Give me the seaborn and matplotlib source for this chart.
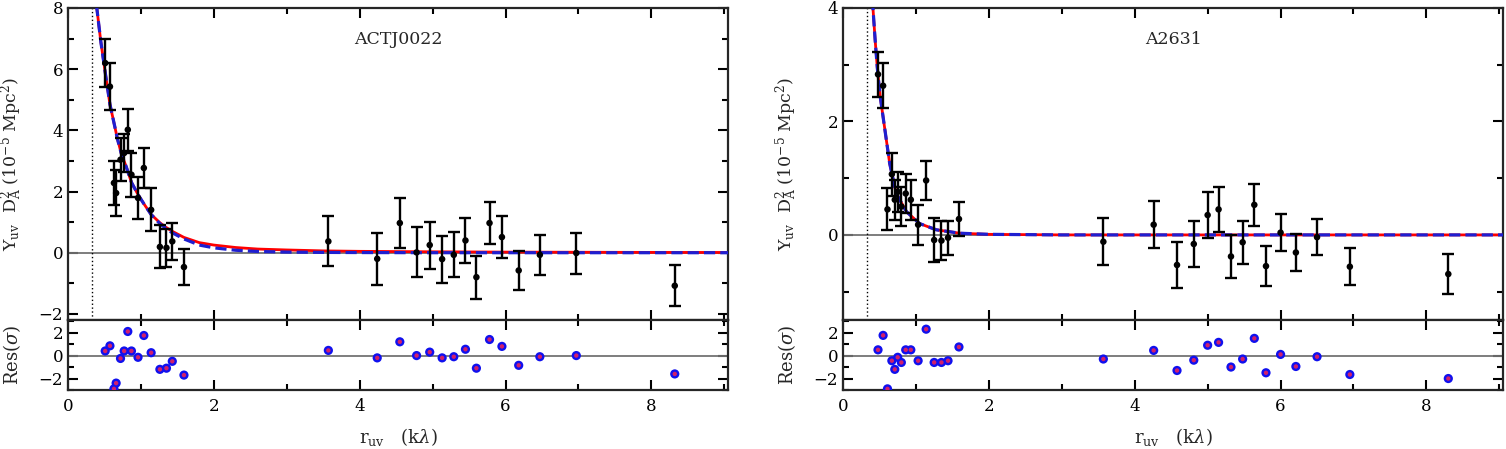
import numpy as np
import pandas as pd
import seaborn as sns
import matplotlib.pyplot as plt
from matplotlib.ticker import MultipleLocator

# %%
# ACTJ0022 visibilities
act_r = [0.51, 0.575, 0.63, 0.66, 0.72, 0.77, 0.82, 0.87, 0.96, 1.04, 1.14, 1.26, 1.35, 1.43, 1.59,
         3.57, 4.24, 4.55, 4.78, 4.96, 5.13, 5.29, 5.45, 5.6, 5.78, 5.95, 6.18, 6.47, 6.97, 8.32]
act_y = [6.2, 5.43, 2.28, 1.95, 3.04, 3.26, 4.02, 2.55, 1.79, 2.77, 1.4, 0.19, 0.16, 0.37, -0.47,
         0.37, -0.2, 0.97, 0.01, 0.25, -0.21, -0.07, 0.4, -0.8, 0.97, 0.51, -0.58, -0.07, -0.01, -1.08]
act_err = [0.79, 0.76, 0.72, 0.75, 0.7, 0.62, 0.68, 0.72, 0.7, 0.66, 0.7, 0.7, 0.62, 0.6, 0.6,
           0.82, 0.86, 0.82, 0.82, 0.77, 0.77, 0.74, 0.74, 0.7, 0.7, 0.68, 0.65, 0.65, 0.67, 0.67]
act_res = [0.4, 0.85, -2.9, -2.4, -0.25, 0.4, 2.1, 0.4, -0.15, 1.75, 0.25, -1.2, -1.1, -0.5, -1.7,
           0.45, -0.2, 1.2, 0.0, 0.3, -0.2, -0.1, 0.55, -1.1, 1.4, 0.8, -0.85, -0.1, 0.0, -1.6]

# ACTJ0022 model curves
act_mod_r = [0.39, 0.45, 0.51, 0.575, 0.63, 0.68, 0.73, 0.8, 0.87, 0.96, 1.04, 1.14, 1.26, 1.35,
             1.43, 1.59, 1.8, 2.0, 2.3, 2.6, 3.0, 3.5, 4.0, 5.0, 6.0, 7.0, 8.0, 9.1]
act_mod_red = [8.1, 6.9, 5.9, 4.85, 4.25, 3.7, 3.25, 2.8, 2.3, 1.9, 1.6, 1.25, 0.98, 0.82,
               0.7, 0.5, 0.33, 0.25, 0.17, 0.12, 0.09, 0.06, 0.045, 0.03, 0.02, 0.015, 0.01, 0.008]
act_mod_blue = [8.1, 6.9, 5.9, 4.85, 4.25, 3.7, 3.25, 2.8, 2.3, 1.9, 1.6, 1.25, 0.95, 0.78,
                0.65, 0.45, 0.25, 0.16, 0.08, 0.04, 0.02, 0.01, 0.005, 0.0, 0.0, 0.0, 0.0, 0.0]

# A2631 visibilities
a_r = [0.48, 0.55, 0.61, 0.67, 0.71, 0.75, 0.80, 0.86, 0.93, 1.03, 1.14, 1.25, 1.35, 1.44, 1.59,
       3.57, 4.26, 4.58, 4.81, 5.0, 5.15, 5.32, 5.48, 5.64, 5.8, 6.0, 6.21, 6.5, 6.95, 8.3]
a_y = [2.83, 2.63, 0.45, 1.07, 0.62, 0.76, 0.5, 0.73, 0.62, 0.18, 0.96, -0.09, -0.1, -0.05, 0.28,
       -0.12, 0.18, -0.53, -0.16, 0.35, 0.45, -0.38, -0.13, 0.53, -0.55, 0.04, -0.31, -0.04, -0.56, -0.69]
a_err = [0.4, 0.4, 0.37, 0.38, 0.35, 0.35, 0.35, 0.35, 0.35, 0.35, 0.35, 0.38, 0.35, 0.3, 0.3,
         0.41, 0.41, 0.4, 0.4, 0.4, 0.39, 0.38, 0.38, 0.37, 0.35, 0.32, 0.33, 0.32, 0.33, 0.35]
a_res = [0.5, 1.76, -2.9, -0.45, -1.2, -0.15, -0.6, 0.5, 0.5, -0.45, 2.3, -0.6, -0.6, -0.45, 0.75,
         -0.3, 0.45, -1.3, -0.4, 0.9, 1.15, -1.0, -0.3, 1.5, -1.5, 0.1, -0.95, -0.1, -1.65, -2.0]

# A2631 model curves
a_mod_r = [0.40, 0.44, 0.47, 0.51, 0.575, 0.64, 0.73, 0.87, 1.05, 1.28, 1.6, 2.0, 3.0, 9.1]
a_mod_red = [4.2, 3.45, 2.95, 2.44, 1.85, 1.26, 0.73, 0.41, 0.2, 0.09, 0.03, 0.01, 0.0, 0.0]
a_mod_blue = [4.2, 3.45, 2.95, 2.44, 1.85, 1.26, 0.73, 0.41, 0.2, 0.09, 0.03, 0.01, 0.0, 0.0]

# %%
sns.set_style("ticks")
plt.rcParams["font.family"] = ["DejaVu Serif"]
plt.rcParams["mathtext.fontset"] = "dejavuserif"
plt.rcParams["axes.linewidth"] = 1.6
for ax_name in ["xtick", "ytick"]:
    plt.rcParams[ax_name + ".direction"] = "in"
    plt.rcParams[ax_name + ".major.size"] = 7
    plt.rcParams[ax_name + ".minor.size"] = 4
    plt.rcParams[ax_name + ".major.width"] = 1.5
    plt.rcParams[ax_name + ".minor.width"] = 1.5
    plt.rcParams[ax_name + ".labelsize"] = 12
    plt.rcParams[ax_name + ".color"] = "black"
plt.rcParams["xtick.top"] = True
plt.rcParams["ytick.right"] = True
plt.rcParams["xtick.major.pad"] = 6

fig = plt.figure(figsize=(15.06, 4.49), dpi=100)

W, H = 1506.0, 449.0


def draw_panel(x0, name, r, y, err, res, mod_r, mod_red, mod_blue, ylim, ymajor):
    ax = fig.add_axes([x0 / W, 1 - 320 / H, 660 / W, 312 / H])
    axr = fig.add_axes([x0 / W, 1 - 390 / H, 660 / W, 70 / H], sharex=ax)

    ax.axhline(0, color="0.45", lw=1.3, zorder=1)
    ax.axvline(0.33, color="black", lw=1, ls=(0, (1, 1.8)), zorder=1)

    sns.lineplot(x=mod_r, y=mod_red, ax=ax, color="red", lw=2, zorder=2)
    sns.lineplot(x=mod_r, y=mod_blue, ax=ax, color="#1f1fd0", lw=2.3, zorder=3)
    ax.lines[-1].set_dashes([3.5, 1.6])

    ax.errorbar(r, y, yerr=err, fmt="none", ecolor="black", elinewidth=1.7,
                capsize=4.5, capthick=1.7, zorder=4)
    sns.scatterplot(x=r, y=y, ax=ax, color="black", s=22, edgecolor="none", zorder=5)

    ax.text(0.5, 0.9, name, transform=ax.transAxes, ha="center", va="center", fontsize=12.5)
    ax.set_xlim(0, 9.05)
    ax.set_ylim(*ylim)
    ax.yaxis.set_major_locator(MultipleLocator(ymajor))
    ax.yaxis.set_minor_locator(MultipleLocator(1))
    ax.xaxis.set_major_locator(MultipleLocator(2))
    ax.xaxis.set_minor_locator(MultipleLocator(1))
    ax.tick_params(axis="x", which="both", labelbottom=False)
    ax.set_ylabel(r"Y$_{\rm uv}$  D$_{\rm A}^{2}$ (10$^{-5}$ Mpc$^{2}$)", fontsize=12.5)

    axr.axhline(0, color="0.45", lw=1.3, zorder=1)
    sns.scatterplot(x=r, y=res, ax=axr, color="#1010ee", s=44, edgecolor="none", zorder=3)
    sns.scatterplot(x=r, y=res, ax=axr, color="#d0206a", s=10, edgecolor="none", zorder=4)
    axr.set_ylim(-3, 3.1)
    axr.yaxis.set_major_locator(MultipleLocator(2))
    axr.yaxis.set_minor_locator(MultipleLocator(1))
    axr.set_ylabel(r"Res($\sigma$)", fontsize=13)
    axr.set_xlabel(r"r$_{\rm uv}$   (k$\lambda$)", fontsize=13, labelpad=8)
    ax.yaxis.set_label_coords(-43 / 660, 0.5)
    axr.yaxis.set_label_coords(-45 / 660, 0.5)
    for a in (ax, axr):
        a.grid(False)
    return ax, axr


draw_panel(68, "ACTJ0022", act_r, act_y, act_err, act_res,
           act_mod_r, act_mod_red, act_mod_blue, (-2.2, 8), 2)
draw_panel(843, "A2631", a_r, a_y, a_err, a_res,
           a_mod_r, a_mod_red, a_mod_blue, (-1.5, 4), 2)

plt.savefig("out.png", dpi=100)
